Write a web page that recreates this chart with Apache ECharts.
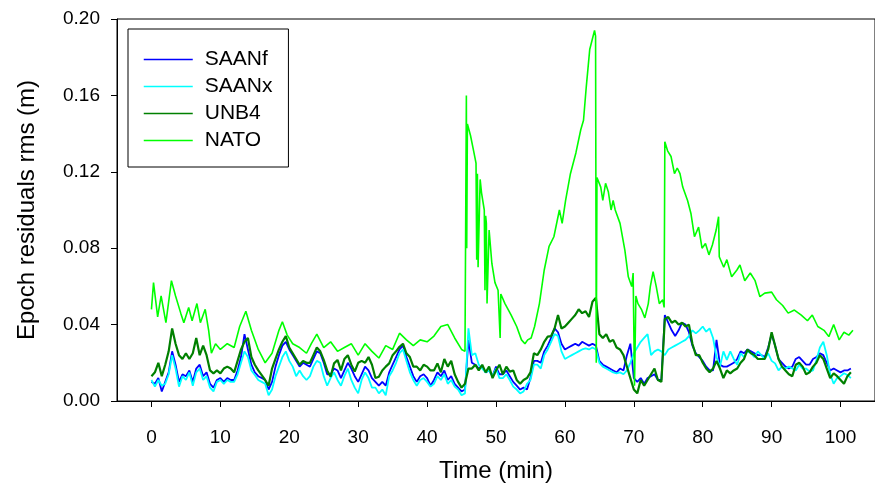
<!DOCTYPE html>
<html>
<head>
<meta charset="utf-8">
<script src="https://cdn.jsdelivr.net/npm/echarts@6/dist/echarts.min.js"></script>
<style>
html,body{margin:0;padding:0;background:#fff;}
#chart{width:875px;height:492px;}
</style>
</head>
<body>
<div id="chart"></div>
<script>
// ---- data ----
const seriesNames = ['SAANf', 'SAANx', 'UNB4', 'NATO'];
const xTickValues = [0, 10, 20, 30, 40, 50, 60, 70, 80, 90, 100];
const yTickLabels = ['0.00', '0.04', '0.08', '0.12', '0.16', '0.20'];

// low series sampled every 0.5 min starting at 0 min
const sampleStart = 0;
const sampleStep = 0.5;

const saanf = [
  0.010, 0.009, 0.012, 0.005, 0.010, 0.015, 0.026, 0.019, 0.010, 0.014,
  0.013, 0.016, 0.010, 0.017, 0.019, 0.013, 0.015, 0.009, 0.007, 0.011,
  0.012, 0.010, 0.012, 0.011, 0.011, 0.016, 0.023, 0.035, 0.027, 0.019,
  0.015, 0.013, 0.012, 0.011, 0.006, 0.010, 0.018, 0.024, 0.029, 0.031,
  0.027, 0.024, 0.021, 0.018, 0.020, 0.019, 0.018, 0.022, 0.026, 0.025,
  0.020, 0.014, 0.014, 0.017, 0.016, 0.012, 0.016, 0.020, 0.017, 0.013,
  0.010, 0.014, 0.018, 0.016, 0.012, 0.010, 0.008, 0.010, 0.008, 0.015,
  0.019, 0.023, 0.027, 0.029, 0.023, 0.018, 0.013, 0.010, 0.013, 0.014,
  0.012, 0.008, 0.011, 0.015, 0.013, 0.016, 0.011, 0.013, 0.009, 0.007,
  0.005, 0.006, 0.032, 0.020, 0.019, 0.017, 0.018, 0.015, 0.016, 0.013,
  0.018, 0.014, 0.014, 0.016, 0.013, 0.010, 0.008, 0.006, 0.007, 0.006,
  0.012, 0.021, 0.021, 0.020, 0.026, 0.029, 0.033, 0.038, 0.036, 0.030,
  0.027, 0.028, 0.029, 0.030, 0.029, 0.031, 0.030, 0.029, 0.030, 0.029,
  0.021, 0.019, 0.018, 0.017, 0.016, 0.015, 0.017, 0.016, 0.024, 0.030,
  0.012, 0.010, 0.012, 0.009, 0.012, 0.013, 0.014, 0.011, 0.011, 0.045,
  0.041, 0.037, 0.034, 0.037, 0.041, 0.040, 0.036, 0.029, 0.025, 0.023,
  0.021, 0.018, 0.016, 0.016, 0.032, 0.019, 0.018, 0.018, 0.019, 0.020,
  0.022, 0.026, 0.025, 0.027, 0.026, 0.025, 0.024, 0.024, 0.023, 0.028,
  0.035, 0.029, 0.022, 0.020, 0.018, 0.017, 0.018, 0.022, 0.023, 0.021,
  0.019, 0.019, 0.022, 0.023, 0.025, 0.024, 0.020, 0.016, 0.017, 0.016,
  0.015, 0.016, 0.016, 0.017
];

const saanx = [
  0.011, 0.0075, 0.011, 0.008, 0.009, 0.014, 0.024, 0.017, 0.0075, 0.013,
  0.011, 0.015, 0.008, 0.015, 0.017, 0.011, 0.013, 0.007, 0.005, 0.010,
  0.011, 0.009, 0.011, 0.010, 0.010, 0.014, 0.020, 0.026, 0.023, 0.016,
  0.0136, 0.011, 0.010, 0.009, 0.003, 0.006, 0.013, 0.018, 0.023, 0.026,
  0.021, 0.018, 0.013, 0.016, 0.013, 0.011, 0.013, 0.018, 0.021, 0.020,
  0.013, 0.008, 0.012, 0.015, 0.011, 0.008, 0.013, 0.017, 0.011, 0.007,
  0.004, 0.011, 0.015, 0.012, 0.007, 0.007, 0.004, 0.006, 0.003, 0.013,
  0.016, 0.020, 0.025, 0.027, 0.021, 0.015, 0.011, 0.008, 0.011, 0.012,
  0.010, 0.0075, 0.009, 0.013, 0.011, 0.014, 0.009, 0.011, 0.0075, 0.006,
  0.003, 0.004, 0.038, 0.024, 0.025, 0.019, 0.017, 0.015, 0.016, 0.013,
  0.017, 0.012, 0.012, 0.014, 0.011, 0.0075, 0.006, 0.004, 0.005, 0.009,
  0.011, 0.019, 0.019, 0.017, 0.024, 0.027, 0.031, 0.035, 0.034, 0.026,
  0.022, 0.023, 0.024, 0.025, 0.026, 0.027, 0.0276, 0.027, 0.028, 0.027,
  0.020, 0.018, 0.017, 0.016, 0.015, 0.0145, 0.015, 0.014, 0.016, 0.020,
  0.025, 0.028, 0.031, 0.033, 0.035, 0.024, 0.026, 0.027, 0.026, 0.024,
  0.027, 0.028, 0.029, 0.030, 0.031, 0.032, 0.034, 0.037, 0.0354, 0.037,
  0.039, 0.0363, 0.038, 0.033, 0.023, 0.018, 0.026, 0.0215, 0.026, 0.022,
  0.019, 0.025, 0.023, 0.026, 0.025, 0.023, 0.026, 0.024, 0.022, 0.025,
  0.021, 0.0197, 0.016, 0.018, 0.017, 0.018, 0.017, 0.016, 0.019, 0.017,
  0.017, 0.0154, 0.016, 0.0215, 0.028, 0.031, 0.024, 0.014, 0.009, 0.012,
  0.013, 0.0145, 0.0136, 0.012
];

const unb4 = [
  0.013, 0.015, 0.020, 0.013, 0.019, 0.026, 0.038, 0.030, 0.024, 0.022,
  0.025, 0.022, 0.025, 0.033, 0.024, 0.029, 0.024, 0.016, 0.0145, 0.016,
  0.0145, 0.017, 0.018, 0.017, 0.015, 0.021, 0.027, 0.031, 0.033, 0.023,
  0.019, 0.016, 0.0135, 0.011, 0.008, 0.017, 0.022, 0.027, 0.031, 0.034,
  0.028, 0.025, 0.022, 0.019, 0.021, 0.020, 0.020, 0.024, 0.028, 0.026,
  0.0215, 0.016, 0.0127, 0.0197, 0.0215, 0.016, 0.022, 0.024, 0.019, 0.0154,
  0.020, 0.021, 0.020, 0.023, 0.019, 0.012, 0.0127, 0.016, 0.018, 0.0197,
  0.024, 0.026, 0.0284, 0.030, 0.025, 0.023, 0.018, 0.018, 0.016, 0.019,
  0.018, 0.016, 0.016, 0.0197, 0.015, 0.022, 0.018, 0.021, 0.014, 0.010,
  0.007, 0.009, 0.017, 0.017, 0.019, 0.016, 0.019, 0.015, 0.018, 0.012,
  0.016, 0.019, 0.014, 0.018, 0.0154, 0.016, 0.011, 0.009, 0.011, 0.012,
  0.015, 0.025, 0.024, 0.027, 0.031, 0.0337, 0.034, 0.038, 0.045, 0.038,
  0.039, 0.041, 0.043, 0.045, 0.048, 0.046, 0.047, 0.044, 0.052, 0.054,
  0.035, 0.033, 0.035, 0.031, 0.032, 0.028, 0.027, 0.024, 0.018, 0.012,
  0.006, 0.004, 0.011, 0.008, 0.011, 0.014, 0.017, 0.011, 0.010, 0.043,
  0.044, 0.041, 0.042, 0.040, 0.041, 0.039, 0.040, 0.030, 0.024, 0.024,
  0.020, 0.017, 0.015, 0.017, 0.021, 0.017, 0.012, 0.016, 0.0145, 0.016,
  0.017, 0.020, 0.022, 0.027, 0.025, 0.024, 0.022, 0.022, 0.022, 0.027,
  0.036, 0.029, 0.022, 0.018, 0.016, 0.014, 0.013, 0.019, 0.020, 0.018,
  0.014, 0.015, 0.018, 0.020, 0.024, 0.022, 0.017, 0.012, 0.0145, 0.013,
  0.011, 0.009, 0.013, 0.015
];

// NATO has its own (irregular) time stamps because of its sharp spikes
const natoTime = [
  0, 0.3, 0.9, 1.4, 2.1, 2.9, 3.5, 4.25, 4.7, 5.4, 5.9, 6.6, 7.1, 7.8, 8.3, 8.7, 9.3, 10,
  11, 12, 12.8, 13.7, 14.5, 15.5, 16.5, 17.5, 18.5, 19, 19.7, 20.5, 21.5, 22.5, 23.2, 24,
  25, 26, 27, 28, 29, 30, 31, 32, 33, 34, 35, 36, 37, 38, 39, 40, 41, 42, 43, 44, 45, 45.5,
  45.7, 45.75, 45.85, 46.3, 46.75, 47.1, 47.2, 47.3, 47.4, 47.7, 47.9, 48.3, 48.4, 48.5,
  48.6, 48.7, 49, 49.4, 49.85, 50.3, 50.6, 50.7, 51.3, 52.2, 53, 53.7, 54.2, 54.6, 55.1,
  55.6, 56.3, 57, 57.7, 58.4, 59.2, 59.6, 60.1, 60.8, 61.6, 62.3, 62.7, 63.1, 63.6, 63.95,
  64.3, 64.45, 64.55, 64.65, 64.9, 65.2, 65.5, 65.9, 66.3, 66.7, 67, 67.3, 68, 68.7, 69.2,
  69.7, 69.9, 70.1, 70.3, 70.6, 71.1, 71.6, 72.1, 72.4, 72.8, 73.25, 73.7, 74.2, 74.4,
  74.5, 74.9, 75.4, 75.9, 76.3, 76.7, 77.1, 77.8, 78.3, 78.8, 79.4, 79.9, 80.4, 80.9, 81.4,
  81.95, 82.3, 82.4, 83.05, 83.5, 84.2, 84.96, 85.4, 86.1, 86.9, 87.6, 88.3, 89, 90, 90.7,
  91.6, 92.4, 93.3, 94.3, 95.2, 95.9, 96.7, 97.6, 98.3, 99, 99.8, 100.5, 101.2, 101.8
];
const natoValue = [
  0.048, 0.062, 0.044, 0.055, 0.041, 0.063, 0.055, 0.046, 0.041, 0.049, 0.042, 0.051, 0.041, 0.048, 0.037, 0.025, 0.030, 0.027,
  0.030, 0.028, 0.039, 0.047, 0.037, 0.027, 0.020, 0.025, 0.037, 0.0415, 0.0345, 0.030, 0.028, 0.025, 0.030, 0.035,
  0.028, 0.031, 0.026, 0.028, 0.030, 0.024, 0.030, 0.026, 0.0225, 0.029, 0.027, 0.0355, 0.032, 0.029, 0.032, 0.031, 0.034, 0.039, 0.040, 0.033, 0.027, 0.026,
  0.160, 0.080, 0.145, 0.139, 0.131, 0.1245, 0.074, 0.119, 0.070, 0.116, 0.109, 0.100, 0.058, 0.097,
  0.093, 0.051, 0.0895, 0.072, 0.062, 0.058, 0.033, 0.056, 0.051, 0.045, 0.039, 0.032, 0.030, 0.032, 0.033,
  0.039, 0.051, 0.0686, 0.081, 0.086, 0.100, 0.093, 0.105, 0.119, 0.130, 0.142, 0.147, 0.1645, 0.184, 0.189,
  0.194, 0.191, 0.020, 0.117, 0.116, 0.112, 0.105, 0.114, 0.1096, 0.100, 0.105, 0.100, 0.093, 0.079, 0.065,
  0.060, 0.067, 0.008, 0.055, 0.051, 0.048, 0.0435, 0.051, 0.060, 0.0677, 0.060, 0.051, 0.053, 0.049,
  0.1357, 0.131, 0.128, 0.119, 0.122, 0.119, 0.112, 0.105, 0.098, 0.086, 0.091, 0.080, 0.0825, 0.0765, 0.0817,
  0.0895, 0.0965, 0.0755, 0.070, 0.074, 0.065, 0.0686, 0.0712, 0.063, 0.067, 0.063, 0.0546, 0.0565, 0.057, 0.053,
  0.050, 0.046, 0.0476, 0.045, 0.042, 0.045, 0.039, 0.037, 0.0337, 0.040, 0.032, 0.036, 0.0345, 0.037
];

const seriesColors = ['#0000ff', '#00ffff', '#008000', '#00ff00'];

// ---- build ----
function sampled(values) {
  return values.map((v, i) => [sampleStart + i * sampleStep, v]);
}
const natoPairs = natoTime.map((t, i) => [t, natoValue[i]]);
const lowData = [saanf, saanx, unb4];

const FONT = '"Liberation Sans", Arial, sans-serif';
const chart = echarts.init(document.getElementById('chart'), null, { renderer: 'canvas' });

const series = seriesNames.map((name, k) => ({
  name: name,
  type: 'line',
  data: k < 3 ? sampled(lowData[k]) : natoPairs,
  symbol: 'none',
  showSymbol: false,
  animation: false,
  lineStyle: { color: seriesColors[k], width: k === 2 ? 2.2 : (k === 3 ? 1.6 : 1.8) },
  itemStyle: { color: seriesColors[k] },
  z: 2 + k
}));

chart.setOption({
  backgroundColor: '#ffffff',
  animation: false,
  textStyle: { fontFamily: FONT },
  grid: {
    left: 117, right: -9, top: 19, bottom: 91,
    show: true, borderColor: '#000', borderWidth: 1, backgroundColor: 'transparent'
  },
  legend: {
    data: seriesNames,
    orient: 'vertical',
    left: 128, top: 29,
    padding: [20, 16, 16, 15],
    itemWidth: 49, itemHeight: 14, itemGap: 6,
    borderColor: '#000', borderWidth: 1,
    backgroundColor: '#fff',
    itemStyle: { opacity: 0 },
    lineStyle: { width: 1.5 },
    textStyle: { fontSize: 21, color: '#000', fontFamily: FONT, padding: [0, 0, 0, 7] }
  },
  xAxis: {
    type: 'value',
    min: -5, max: 105,
    name: 'Time (min)',
    nameLocation: 'middle',
    nameGap: 58,
    nameTextStyle: { fontSize: 24, color: '#000', fontFamily: FONT },
    axisLine: { show: true, onZero: false, lineStyle: { color: '#000', width: 1 } },
    axisTick: { show: true, inside: false, length: 6, customValues: xTickValues, lineStyle: { color: '#000' } },
    axisLabel: { show: true, customValues: xTickValues, fontSize: 19, color: '#000', margin: 27, fontFamily: FONT },
    splitLine: { show: false }
  },
  yAxis: {
    type: 'value',
    min: 0, max: 0.2, interval: 0.04,
    name: 'Epoch residuals rms (m)',
    nameLocation: 'middle',
    nameGap: 78,
    nameRotate: 90,
    nameTextStyle: { fontSize: 24, color: '#000', fontFamily: FONT },
    axisLine: { show: true, onZero: false, lineStyle: { color: '#000', width: 1 } },
    axisTick: { show: true, inside: false, length: 6, lineStyle: { color: '#000' } },
    axisLabel: {
      fontSize: 19, color: '#000', margin: 17, fontFamily: FONT,
      formatter: (v) => yTickLabels[Math.round(v / 0.04)]
    },
    splitLine: { show: false }
  },
  series: series
});
</script>
</body>
</html>
